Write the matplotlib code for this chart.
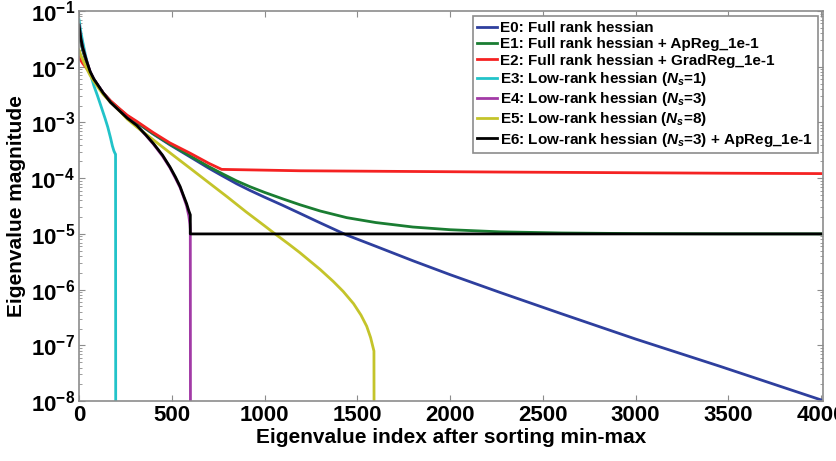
import matplotlib
matplotlib.use('Agg')
import matplotlib.pyplot as plt
from matplotlib.ticker import FixedLocator, LogLocator, NullFormatter

plt.rcParams.update({
    'font.family': 'Liberation Sans',
    'font.weight': 'bold',
    'mathtext.fontset': 'custom',
    'mathtext.rm': 'Liberation Sans:bold',
    'mathtext.bf': 'Liberation Sans:bold',
    'mathtext.it': 'Liberation Sans:bold:italic',
    'mathtext.default': 'rm',
})

# eigenvalue spectra, (index, magnitude) pairs per experiment
e0_idx = [0, 10, 20, 40, 60, 80, 100, 130, 170, 220, 260, 311, 400, 490, 600, 700, 769, 850,
          922, 1000, 1100, 1191, 1300, 1443, 1600, 1800, 2000, 2270, 2600, 3000, 3456, 4000]
e0_val = [4.5e-2, 2.8e-2, 2.0e-2, 1.2e-2, 8.0e-3, 6.0e-3, 4.7e-3, 3.4e-3, 2.4e-3, 1.7e-3,
          1.3e-3, 1.0e-3, 6.2e-4, 3.98e-4, 2.40e-4, 1.51e-4, 1.12e-4, 7.94e-5, 6.03e-5, 4.57e-5,
          3.24e-5, 2.34e-5, 1.58e-5, 9.55e-6, 6.0e-6, 3.3e-6, 1.86e-6, 8.9e-7, 3.7e-7, 1.3e-7,
          4.2e-8, 1.05e-8]

e1_idx = [0, 10, 20, 40, 60, 80, 100, 130, 170, 220, 260, 311, 400, 490, 600, 700, 769, 850,
          922, 1000, 1100, 1191, 1300, 1443, 1600, 1800, 2000, 2270, 2600, 3000, 3456, 4000]
e1_val = [4.5e-2, 2.8e-2, 2.0e-2, 1.2e-2, 8.0e-3, 6.0e-3, 4.7e-3, 3.4e-3, 2.4e-3, 1.7e-3,
          1.31e-3, 1.01e-3, 6.3e-4, 4.08e-4, 2.50e-4, 1.61e-4, 1.22e-4, 8.94e-5, 7.03e-5, 5.57e-5,
          4.24e-5, 3.34e-5, 2.58e-5, 1.96e-5, 1.6e-5, 1.33e-5, 1.19e-5, 1.09e-5, 1.04e-5, 1.013e-5,
          1.004e-5, 1.001e-5]

e2_idx = [0, 10, 20, 40, 60, 80, 100, 130, 170, 220, 260, 311, 400, 490, 600, 700, 769,
          1191, 2270, 3456, 4000]
e2_val = [1.5e-2, 1.3e-2, 1.15e-2, 9.5e-3, 7.5e-3, 5.8e-3, 4.6e-3, 3.4e-3, 2.45e-3, 1.75e-3,
          1.35e-3, 1.05e-3, 6.6e-4, 4.3e-4, 2.8e-4, 1.85e-4, 1.44e-4, 1.36e-4, 1.29e-4, 1.23e-4,
          1.21e-4]

e3_idx = [0, 10, 20, 35, 50, 65, 80, 100, 120, 140, 155, 170, 180, 188, 194, 197, 198]
e3_val = [7.0e-2, 4.2e-2, 2.8e-2, 1.6e-2, 1.0e-2, 6.8e-3, 4.6e-3, 3.0e-3, 1.9e-3, 1.2e-3,
          8.3e-4, 5.3e-4, 3.8e-4, 3.1e-4, 2.8e-4, 2.7e-4, 1e-9]

e4_idx = [0, 10, 20, 40, 60, 80, 100, 130, 170, 220, 260, 311, 360, 401, 450, 490, 520, 545,
          562, 580, 592, 598, 600, 601]
e4_val = [5.6e-2, 3.2e-2, 2.2e-2, 1.3e-2, 8.2e-3, 6.0e-3, 4.8e-3, 3.4e-3, 2.3e-3, 1.6e-3,
          1.2e-3, 8.7e-4, 5.9e-4, 4.1e-4, 2.5e-4, 1.55e-4, 1.0e-4, 6.8e-5, 4.8e-5, 3.2e-5,
          2.1e-5, 1.5e-5, 1.2e-5, 1e-9]

e5_idx = [0, 10, 20, 40, 60, 80, 100, 130, 170, 220, 260, 311, 400, 500, 600, 700, 800, 900,
          1000, 1057, 1130, 1191, 1250, 1300, 1370, 1424, 1480, 1520, 1551, 1572, 1584, 1590, 1591]
e5_val = [2.0e-2, 1.6e-2, 1.35e-2, 9.5e-3, 7.0e-3, 5.5e-3, 4.4e-3, 3.2e-3, 2.3e-3, 1.6e-3,
          1.15e-3, 8.3e-4, 4.9e-4, 2.7e-4, 1.5e-4, 8.3e-5, 4.6e-5, 2.5e-5, 1.4e-5, 1.0e-5,
          6.6e-6, 4.6e-6, 3.16e-6, 2.3e-6, 1.41e-6, 9.3e-7, 5.6e-7, 3.5e-7, 2.2e-7, 1.38e-7,
          9.5e-8, 7.9e-8, 1e-9]

e6_idx = [0, 10, 20, 40, 60, 80, 100, 130, 170, 220, 260, 311, 360, 401, 450, 490, 520, 545,
          562, 580, 592, 600, 600, 4000]
e6_val = [5.6e-2, 3.2e-2, 2.2e-2, 1.3e-2, 8.2e-3, 6.0e-3, 4.8e-3, 3.4e-3, 2.3e-3, 1.6e-3,
          1.2e-3, 8.9e-4, 6.0e-4, 4.2e-4, 2.6e-4, 1.6e-4, 1.05e-4, 7.1e-5, 5.0e-5, 3.5e-5,
          2.6e-5, 2.2e-5, 1.0e-5, 1.0e-5]

labels = [
    'E0: Full rank hessian',
    'E1: Full rank hessian + ApReg_1e-1',
    'E2: Full rank hessian + GradReg_1e-1',
    r'E3: Low-rank hessian ($\mathit{N_s}$=1)',
    r'E4: Low-rank hessian ($\mathit{N_s}$=3)',
    r'E5: Low-rank hessian ($\mathit{N_s}$=8)',
    r'E6: Low-rank hessian ($\mathit{N_s}$=3) + ApReg_1e-1',
]
colors = ['#2e3f9e', '#1a7d32', '#f52222', '#22c3c9', '#a23aa6', '#c4c42a', '#000000']

xticks = [0, 500, 1000, 1500, 2000, 2500, 3000, 3500, 4000]
yticks = [1e-8, 1e-7, 1e-6, 1e-5, 1e-4, 1e-3, 1e-2, 1e-1]
ytick_labels = ['10$^{-8}$', '10$^{-7}$', '10$^{-6}$', '10$^{-5}$',
                '10$^{-4}$', '10$^{-3}$', '10$^{-2}$', '10$^{-1}$']

fig = plt.figure(figsize=(8.36, 4.61), dpi=100)
ax = fig.add_axes([0.0945, 0.130, 0.89, 0.846])

series = [(e0_idx, e0_val), (e1_idx, e1_val), (e2_idx, e2_val), (e3_idx, e3_val),
          (e4_idx, e4_val), (e5_idx, e5_val), (e6_idx, e6_val)]
for (xs, ys), lab, col in zip(series, labels, colors):
    ax.plot(xs, ys, color=col, lw=2.0, label=lab, solid_joinstyle='round')

ax.set_yscale('log')
ax.set_xlim(0, 4011)
ax.set_ylim(1e-8, 1e-1)
ax.set_xticks(xticks)
ax.set_xticklabels([str(t) for t in xticks])
ax.yaxis.set_major_locator(FixedLocator(yticks))
ax.set_yticklabels(ytick_labels)
ax.yaxis.set_minor_locator(LogLocator(base=10, subs=range(2, 10), numticks=20))
ax.yaxis.set_minor_formatter(NullFormatter())

for sp in ax.spines.values():
    sp.set_color('#8c8c8c')
    sp.set_linewidth(1.2)
ax.tick_params(which='both', direction='in', top=True, right=True, color='#8c8c8c')
ax.tick_params(which='major', length=4, labelsize=16, pad=3)
ax.tick_params(which='minor', length=2)

ax.set_xlabel('Eigenvalue index after sorting min-max', fontsize=15, fontweight='bold', labelpad=1)
ax.set_ylabel('Eigenvalue magnitude', fontsize=15, fontweight='bold', labelpad=3)

leg = ax.legend(loc='upper right', fontsize=11, handlelength=1.3, handletextpad=0.2,
                borderpad=0.3, labelspacing=0.15, borderaxespad=0.35, fancybox=False,
                framealpha=1)
leg.get_frame().set_edgecolor('#8c8c8c')
leg.get_frame().set_linewidth(1.2)

fig.savefig('out.png', dpi=100)
